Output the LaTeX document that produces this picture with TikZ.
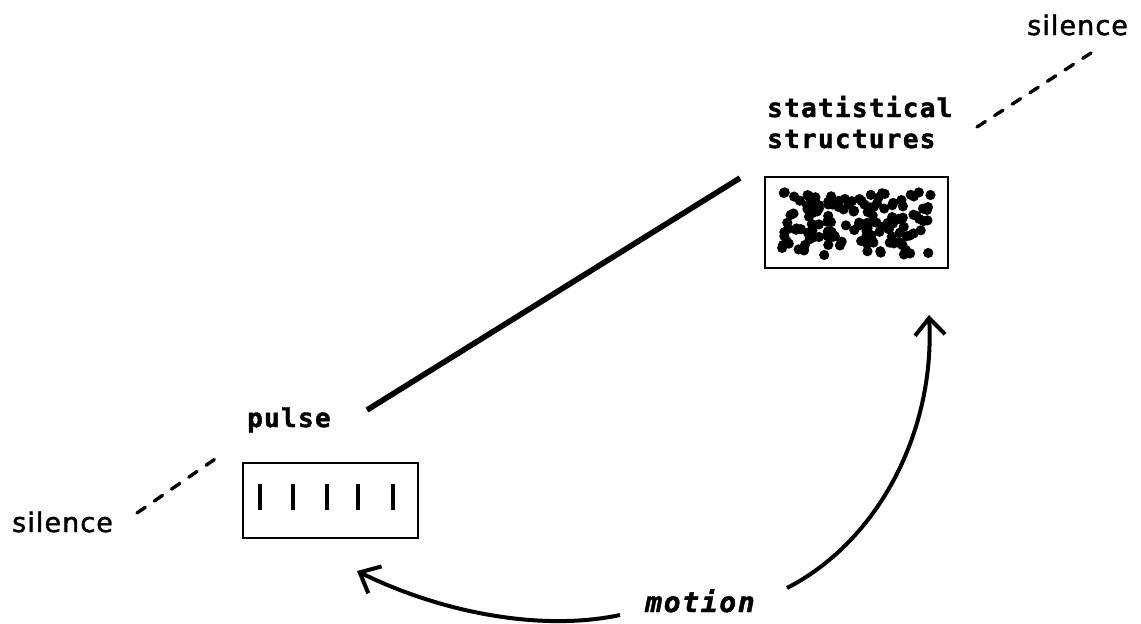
\documentclass[tikz,border=0pt]{standalone}
\usepackage{fontspec}
\usetikzlibrary{arrows.meta}
\newfontfamily\labelfont[LetterSpace=5,FakeBold=1.5]{DejaVu Sans Mono}
\newfontfamily\motfont[LetterSpace=6,FakeBold=1.5]{DejaVu Sans Mono}
\newfontfamily\handfont[LetterSpace=4,FakeBold=1.6]{DejaVu Sans}
\tikzset{
  box/.style={draw=black, line width=2.3pt, inner sep=0pt},
  lbl/.style={anchor=base west, inner sep=0pt, font=\labelfont\bfseries\fontsize{26}{28}\selectfont},
  hand/.style={anchor=base west, inner sep=0pt, font=\handfont\fontsize{27}{30}\selectfont},
  mot/.style={anchor=base west, inner sep=0pt, font=\motfont\bfseries\itshape\fontsize{28}{30}\selectfont},
  dashline/.style={line width=3.4pt, dash pattern=on 10pt off 11pt, line cap=round},
  mainline/.style={line width=5.6pt},
  arc/.style={line width=4pt, -{Straight Barb[length=17pt,width=30pt]}},
  bar/.style={line width=4.4pt},
  dot/.style={fill=black}
}
\begin{document}
\begin{tikzpicture}[x=1pt,y=-1pt]
\useasboundingbox (0,0) rectangle (1141,624);
% labels
\node[hand] (silR) at (1027,35) {silence};
\node[hand] (silL) at (12,532) {silence};
\node[lbl] (stat1) at (767,117) {statistical};
\node[lbl] (stat2) at (767,148) {structures};
\node[lbl] (pulse) at (247,427) {pulse};
\node[mot] (motion) at (645,612) {motion};
% boxes
\node[box, minimum width=183pt, minimum height=91pt] (statbox) at (856.5,222.5) {};
\node[box, minimum width=175pt, minimum height=75pt] (pulsebox) at (330.5,500.5) {};
% dots
\pgfmathsetseed{11}
\foreach \i in {1,...,140}{
  \pgfmathsetmacro\dx{782+rnd*150}
  \pgfmathsetmacro\dy{192+rnd*64}
  \fill[dot] (\dx,\dy) circle (5.1);
}
% pulse bars
\foreach \bx in {260,293,327,358,393}{
  \draw[bar] (\bx,484) -- (\bx,510);
}
% coordinates
\coordinate (dRa) at (977,127);
\coordinate (dRb) at (1091,53);
\coordinate (dLa) at (137,513);
\coordinate (dLb) at (218,457);
\coordinate (mA) at (367,410);
\coordinate (mB) at (740,178);
\coordinate (arcA) at (787,588);
\coordinate (arcB) at (929,315);
\coordinate (botA) at (620,615);
\coordinate (botB) at (357,571);
% lines
\draw[dashline] (dRa) -- (dRb);
\draw[dashline] (dLa) -- (dLb);
\draw[mainline] (mA) -- (mB);
\draw[arc] (arcA) .. controls (880,540) and (935,430) .. (arcB);
\draw[arc] (botA) .. controls (540,632) and (440,612) .. (botB);
\end{tikzpicture}
\end{document}
